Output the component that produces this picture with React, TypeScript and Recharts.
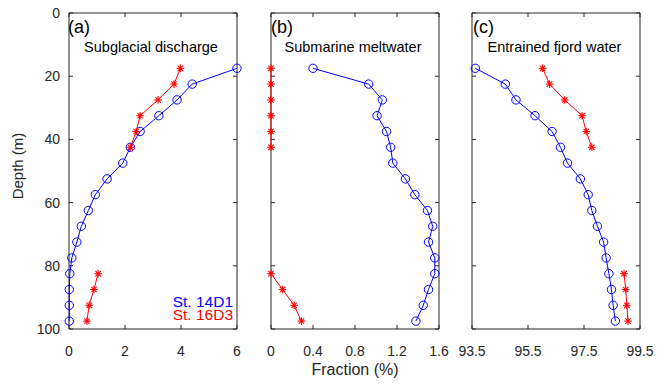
import { Scatter, ScatterChart, XAxis, YAxis } from 'recharts'

// depth levels (m)
const depths = [17.5, 22.5, 27.5, 32.5, 37.5, 42.5, 47.5, 52.5, 57.5, 62.5, 67.5, 72.5, 77.5, 82.5, 87.5, 92.5, 97.5]
const redTopDepths = [17.5, 22.5, 27.5, 32.5, 37.5, 42.5]
const redBottomDepths = [82.5, 87.5, 92.5, 97.5]
const depthTicks = [0, 20, 40, 60, 80, 100]

// (a) subglacial discharge
const sgdBlue = [6.0, 4.4, 3.86, 3.21, 2.54, 2.19, 1.92, 1.36, 0.94, 0.69, 0.44, 0.28, 0.1, 0.03, 0.01, 0.01, 0.01]
const sgdRedTop = [3.98, 3.75, 3.18, 2.54, 2.4, 2.19]
const sgdRedBottom = [1.04, 0.89, 0.72, 0.64]
const sgdTicks = [0, 2, 4, 6]

// (b) submarine meltwater
const smwBlue = [0.4, 0.93, 1.06, 1.01, 1.1, 1.14, 1.16, 1.28, 1.37, 1.49, 1.54, 1.5, 1.56, 1.56, 1.5, 1.45, 1.38]
const smwRedTop = [0, 0, 0, 0, 0, 0]
const smwRedBottom = [0, 0.11, 0.22, 0.29]
const smwTicks = [0, 0.4, 0.8, 1.2, 1.6]

// (c) entrained fjord water
const efwBlue = [93.62, 94.69, 95.07, 95.75, 96.36, 96.66, 96.91, 97.37, 97.65, 97.78, 97.98, 98.2, 98.29, 98.39, 98.48, 98.54, 98.62]
const efwRedTop = [96.02, 96.27, 96.81, 97.43, 97.58, 97.78]
const efwRedBottom = [98.93, 98.99, 99.03, 99.07]
const efwTicks = [93.5, 95.5, 97.5, 99.5]

const BLUE = '#0000ff'
const RED = '#ff0000'
const AXIS = '#262626'
const FONT = '"Liberation Sans", Arial, sans-serif'

const toPoints = (values: number[], levels: number[]) => values.map((x, i) => ({ x, depth: levels[i] }))

function Circle(props: any) {
  const { cx, cy } = props
  if (cx == null || cy == null) return null
  return <circle cx={cx} cy={cy} r={4.2} fill="none" stroke={BLUE} strokeWidth={1} />
}

function Star(props: any) {
  const { cx, cy } = props
  if (cx == null || cy == null) return null
  const r = 3.8
  const d = r * 0.707
  return (
    <g stroke={RED} strokeWidth={1.1}>
      <line x1={cx - r} y1={cy} x2={cx + r} y2={cy} />
      <line x1={cx} y1={cy - r} x2={cx} y2={cy + r} />
      <line x1={cx - d} y1={cy - d} x2={cx + d} y2={cy + d} />
      <line x1={cx - d} y1={cy + d} x2={cx + d} y2={cy - d} />
    </g>
  )
}

const blank = () => ''
const noShape = () => null

type PanelProps = {
  left: number
  yWidth: number
  marginLeft: number
  marginRight: number
  domain: [number, number]
  ticks: number[]
  blue: number[]
  redTop: number[]
  redBottom: number[]
  depthLabels: boolean
}

function Panel(p: PanelProps) {
  const width = p.marginLeft + p.yWidth + 168 + 1 + p.marginRight
  const tickStyle = { fontSize: 14, fill: AXIS, fontFamily: FONT }
  return (
    <div style={{ position: 'absolute', left: p.left, top: 0 }}>
      <ScatterChart width={width} height={388} margin={{ top: 12, right: p.marginRight, bottom: 29, left: p.marginLeft }}>
        <XAxis
          xAxisId="bottom"
          type="number"
          dataKey="x"
          domain={p.domain}
          ticks={p.ticks}
          height={30}
          tickSize={-4}
          tickMargin={21}
          stroke={AXIS}
          tick={tickStyle}
        />
        <XAxis
          xAxisId="top"
          orientation="top"
          type="number"
          dataKey="x"
          domain={p.domain}
          ticks={p.ticks}
          height={1}
          tickSize={-4}
          tickFormatter={blank}
          stroke={AXIS}
        />
        <YAxis
          yAxisId="left"
          type="number"
          dataKey="depth"
          domain={[0, 100]}
          ticks={depthTicks}
          reversed
          width={p.yWidth}
          tickSize={-4}
          tickMargin={13}
          stroke={AXIS}
          tick={tickStyle}
          tickFormatter={p.depthLabels ? undefined : blank}
        />
        <YAxis
          yAxisId="right"
          orientation="right"
          type="number"
          dataKey="depth"
          domain={[0, 100]}
          ticks={depthTicks}
          reversed
          width={1}
          tickSize={-4}
          tickFormatter={blank}
          stroke={AXIS}
        />
        {/* invisible copy so the top / right frame axes have a bound series */}
        <Scatter xAxisId="top" yAxisId="right" data={toPoints(p.blue, depths)} shape={noShape} isAnimationActive={false} />
        <Scatter
          xAxisId="bottom"
          yAxisId="left"
          data={toPoints(p.blue, depths)}
          line={{ stroke: BLUE, strokeWidth: 1 }}
          shape={Circle}
          isAnimationActive={false}
        />
        <Scatter
          xAxisId="bottom"
          yAxisId="left"
          data={toPoints(p.redTop, redTopDepths)}
          line={{ stroke: RED, strokeWidth: 1 }}
          shape={Star}
          isAnimationActive={false}
        />
        <Scatter
          xAxisId="bottom"
          yAxisId="left"
          data={toPoints(p.redBottom, redBottomDepths)}
          line={{ stroke: RED, strokeWidth: 1 }}
          shape={Star}
          isAnimationActive={false}
        />
      </ScatterChart>
    </div>
  )
}

export default function App() {
  return (
    <div style={{ position: 'absolute', left: 0, top: 0, width: 665, height: 388, background: '#fff', fontFamily: FONT }}>
      <Panel left={0} yWidth={69} marginLeft={0} marginRight={11} domain={[0, 6]} ticks={sgdTicks}
        blue={sgdBlue} redTop={sgdRedTop} redBottom={sgdRedBottom} depthLabels />
      <Panel left={251} yWidth={1} marginLeft={19} marginRight={19} domain={[0, 1.6]} ticks={smwTicks}
        blue={smwBlue} redTop={smwRedTop} redBottom={smwRedBottom} depthLabels={false} />
      <Panel left={452} yWidth={1} marginLeft={19} marginRight={19} domain={[93.5, 99.5]} ticks={efwTicks}
        blue={efwBlue} redTop={efwRedTop} redBottom={efwRedBottom} depthLabels={false} />
      <svg width={665} height={388} style={{ position: 'absolute', left: 0, top: 0, pointerEvents: 'none' }} fontFamily={FONT}>
        <text x={68} y={33} fontSize={18} fill="#000">(a)</text>
        <text x={151} y={51.5} fontSize={14.5} fill="#000" textAnchor="middle">Subglacial discharge</text>
        <text x={271} y={33} fontSize={18} fill="#000">(b)</text>
        <text x={353} y={51.5} fontSize={14.5} fill="#000" textAnchor="middle">Submarine meltwater</text>
        <text x={473} y={33} fontSize={18} fill="#000">(c)</text>
        <text x={554.5} y={51.5} fontSize={14.5} fill="#000" textAnchor="middle">Entrained fjord water</text>
        <text x={233} y={306.5} fontSize={15.5} fill={BLUE} textAnchor="end">St. 14D1</text>
        <text x={233} y={320} fontSize={15.5} fill={RED} textAnchor="end">St. 16D3</text>
        <text x={355} y={375} fontSize={16} fill={AXIS} textAnchor="middle">Fraction (%)</text>
        <text x={23} y={166} fontSize={15} fill={AXIS} textAnchor="middle" transform="rotate(-90 23 166)">Depth (m)</text>
      </svg>
    </div>
  )
}
